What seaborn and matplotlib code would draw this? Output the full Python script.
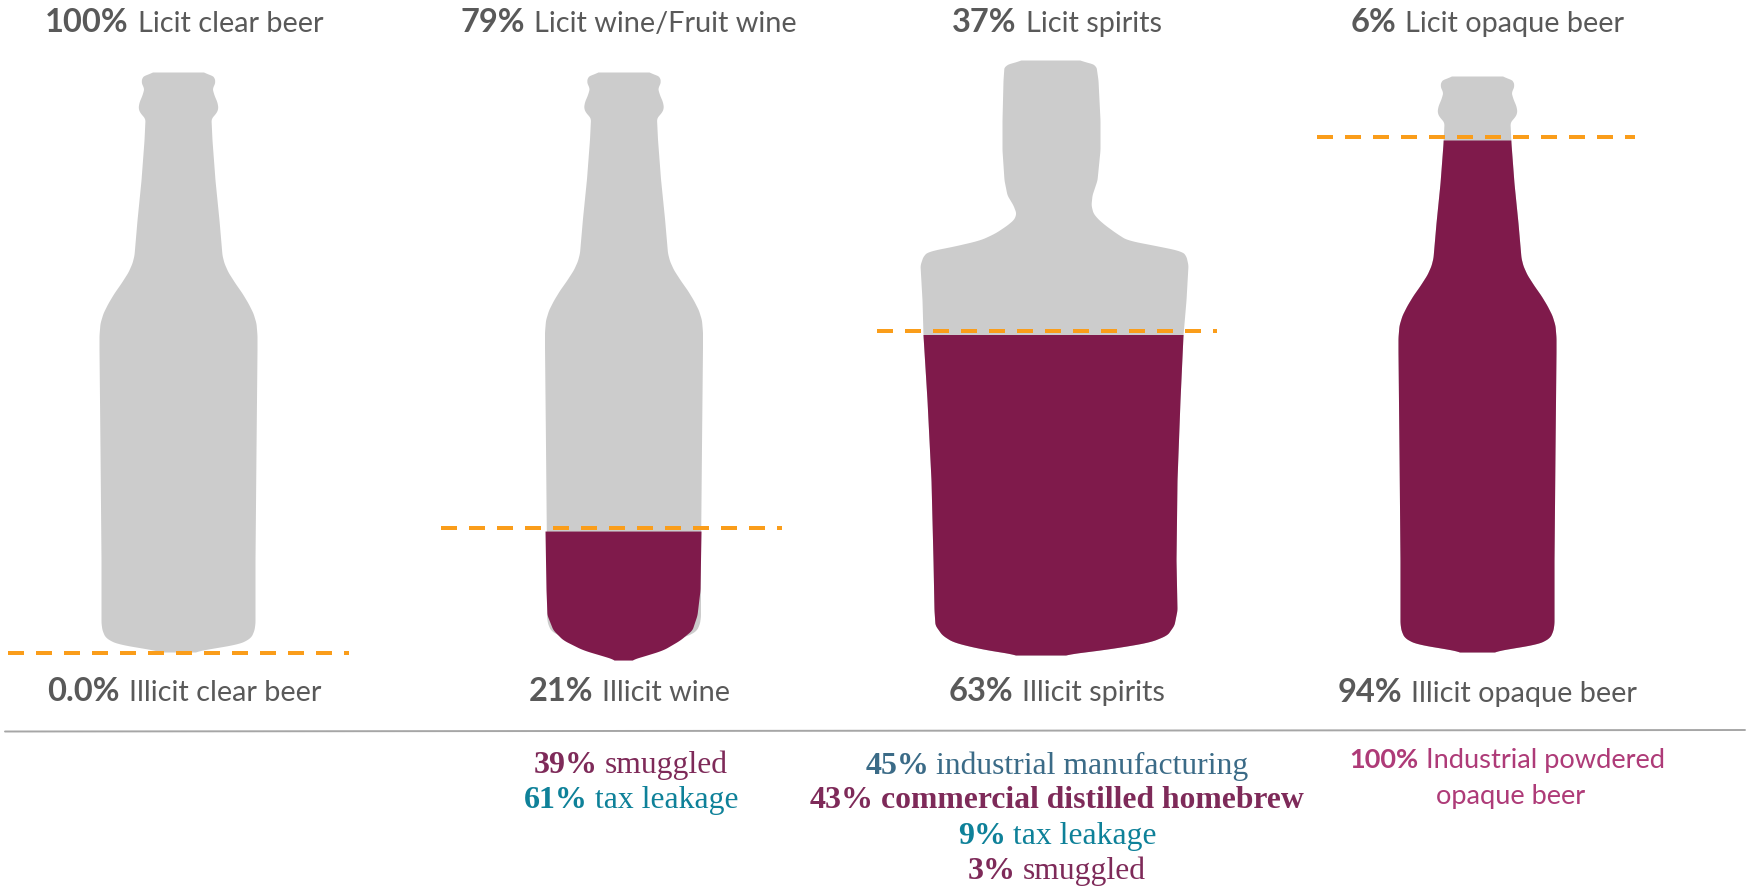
import numpy as np
import matplotlib
matplotlib.use("Agg")
import matplotlib.pyplot as plt
import seaborn as sns

# Shares of each alcohol category
categories = ["clear beer", "wine", "spirits", "opaque beer"]
licit_names = ["Licit clear beer", "Licit wine/Fruit wine", "Licit spirits", "Licit opaque beer"]
illicit_names = ["Illicit clear beer", "Illicit wine", "Illicit spirits", "Illicit opaque beer"]
licit_labels = ["100%", "79%", "37%", "6%"]
illicit_labels = ["0.0%", "21%", "63%", "94%"]
illicit_share = [0.0, 0.21, 0.63, 0.94]

# Breakdown of the illicit share: (percent, description, colour, bold description, baseline)
TEAL = "#0E8199"
PLUM = "#7E2A59"
BLUE = "#3B6B87"
ROSE = "#AE3B78"
breakdown_wine = [("39%", "smuggled", PLUM, False, 773), ("61%", "tax leakage", TEAL, False, 808)]
breakdown_spirits = [
    ("45%", "industrial manufacturing", BLUE, False, 774),
    ("43%", "commercial distilled homebrew", PLUM, True, 808),
    ("9%", "tax leakage", TEAL, False, 844),
    ("3%", "smuggled", PLUM, False, 879),
]

# Beer bottle outline: height, half width
beer_y = [72, 74, 77, 81, 85, 88, 95, 102, 108, 113, 117, 119, 140, 180, 220, 255, 263, 272, 283, 293, 303,
          313, 323, 335, 350, 450, 560, 623, 630, 637, 641, 644, 647, 650, 652]
beer_hw = [22, 33, 36, 37, 36, 34, 36, 39, 40, 38, 34, 33, 34, 37, 41, 44, 46, 50, 57, 64, 70,
           75, 78, 79, 79, 78, 77, 77, 76, 73, 67, 60, 42, 24, 14]

# Spirits bottle outline: height, left edge, right edge
spirits_y = [60, 62, 66, 80, 120, 150, 180, 195, 205, 213, 219, 225, 233, 240, 247, 251, 256, 265, 300, 335,
             400, 480, 560, 610, 625, 635, 642, 648, 652, 655]
spirits_l = [1025, 1012, 1004, 1003, 1002, 1002, 1004, 1007, 1013, 1016, 1014, 1007, 995, 980, 950, 928, 923, 920, 922, 923,
             927, 931, 933, 934, 935, 942, 953, 977, 1000, 1020]
spirits_r = [1075, 1090, 1096, 1098, 1100, 1100, 1097, 1092, 1091, 1093, 1098, 1105, 1116, 1127, 1163, 1182, 1186, 1188, 1186, 1183,
             1180, 1177, 1176, 1177, 1174, 1167, 1150, 1115, 1085, 1060]

# The liquid in the wine bottle sits rounder than its glass
wine_liquid_y = [531, 590, 615, 630, 640, 650, 655, 658, 660]
wine_liquid_l = [545, 546, 547, 553, 563, 583, 600, 610, 616]
wine_liquid_r = [701, 700, 697, 692, 680, 663, 647, 637, 630]

bottle_center = [178, 623.5, 1050, 1477]
bottle_top = [72, 72, 60, 76]
bottle_bottom = [652, 645, 655, 652]

# Scale of each fill line: pixels of height per unit of illicit share
line_base = 653
line_span = [580, 595, 511, 549]
line_left = [8, 441, 877, 1317]
line_right = [349, 782, 1217, 1635]

label_center = [184, 629, 1057, 1487]
top_baseline = [32, 32, 32, 32]
bottom_baseline = [701, 701, 701, 702]

GLASS = "#CCCCCC"
LIQUID = "#7F1A4B"
ORANGE = "#FA9D1A"
INK = "#595959"
RULE = "#A6A6A6"

sns.set_theme(style="white")
plt.rcParams["font.family"] = ["Lato", "DejaVu Sans"]

fig = plt.figure(figsize=(17.52, 8.86), dpi=100, facecolor="white")
ax = fig.add_axes([0, 0, 1, 1])
ax.set_xlim(0, 1752)
ax.set_ylim(886, 0)
ax.axis("off")


def smooth(values, width=11):
    """Moving average that leaves the ends of an edge in place."""
    kernel = np.ones(width) / width
    padded = np.pad(values, width // 2, mode="edge")
    return np.convolve(padded, kernel, mode="valid")


def edges(ys, left, right, y0, y1):
    grid = np.arange(y0, y1 + 0.25, 0.5)
    return grid, smooth(np.interp(grid, ys, left)), smooth(np.interp(grid, ys, right))


def bottle_edges(i):
    if categories[i] == "spirits":
        return edges(spirits_y, spirits_l, spirits_r, bottle_top[i], bottle_bottom[i])
    frac = (np.array(beer_y) - beer_y[0]) / (beer_y[-1] - beer_y[0])
    ys = bottle_top[i] + frac * (bottle_bottom[i] - bottle_top[i])
    hw = np.array(beer_hw)
    return edges(ys, bottle_center[i] - hw, bottle_center[i] + hw, bottle_top[i], bottle_bottom[i])


def centred_runs(x, y, runs):
    """Write differently styled runs side by side, centred on x, on one baseline."""
    renderer = fig.canvas.get_renderer()
    items = []
    total = 0
    for txt, style, gap in runs:
        t = ax.text(0, y, txt, va="baseline", ha="left", **style)
        w = t.get_window_extent(renderer).width
        items.append((t, w, gap))
        total += w + gap
    cursor = x - total / 2
    for t, w, gap in items:
        t.set_x(cursor)
        cursor += w + gap


for i, share in enumerate(illicit_share):
    ys, left, right = bottle_edges(i)
    ax.fill_betweenx(ys, left, right, color=GLASS, linewidth=0, zorder=1)

    line_y = line_base - share * line_span[i]
    if share > 0:
        if categories[i] == "wine":
            ly, ll, lr = edges(wine_liquid_y, wine_liquid_l, wine_liquid_r, line_y + 3, wine_liquid_y[-1])
        else:
            keep = ys >= line_y + 3
            ly, ll, lr = ys[keep], left[keep], right[keep]
        ax.fill_betweenx(ly, ll, lr, color=LIQUID, linewidth=0, zorder=2)

    sns.lineplot(x=[line_left[i], line_right[i]], y=[line_y, line_y], ax=ax, color=ORANGE,
                 linewidth=2.88, linestyle=(0, (4, 3)), zorder=3, legend=False)

    big = dict(fontsize=23.5, fontweight="bold", color=INK, family=["Lato"])
    small = dict(fontsize=20.8, color=INK, family=["Lato"])
    centred_runs(label_center[i], top_baseline[i], [(licit_labels[i], big, 9), (licit_names[i], small, 0)])
    centred_runs(label_center[i], bottom_baseline[i], [(illicit_labels[i], big, 9), (illicit_names[i], small, 0)])

# Rule between the bottles and the breakdowns
sns.lineplot(x=[5, 1745], y=[731.5, 730], ax=ax, color=RULE, linewidth=1.4, legend=False, sort=False)

serif = "Liberation Serif"
for center, rows in [(631, breakdown_wine), (1057, breakdown_spirits)]:
    for pct, desc, colour, strong, base in rows:
        bold = dict(fontsize=23, fontweight="bold", color=colour, family=[serif])
        plain = dict(fontsize=22.8, fontweight="bold" if strong else "normal", color=colour, family=[serif])
        centred_runs(center, base, [(pct, bold, 7), (desc, plain, 0)])

centred_runs(1507, 768, [("100%", dict(fontsize=19.5, fontweight="bold", color=ROSE, family=["Lato"]), 7),
                         ("Industrial powdered", dict(fontsize=19.6, color=ROSE, family=["Lato"]), 0)])
centred_runs(1511, 804, [("opaque beer", dict(fontsize=19.6, color=ROSE, family=["Lato"]), 0)])

fig.savefig("out.png", dpi=100, facecolor="white")
